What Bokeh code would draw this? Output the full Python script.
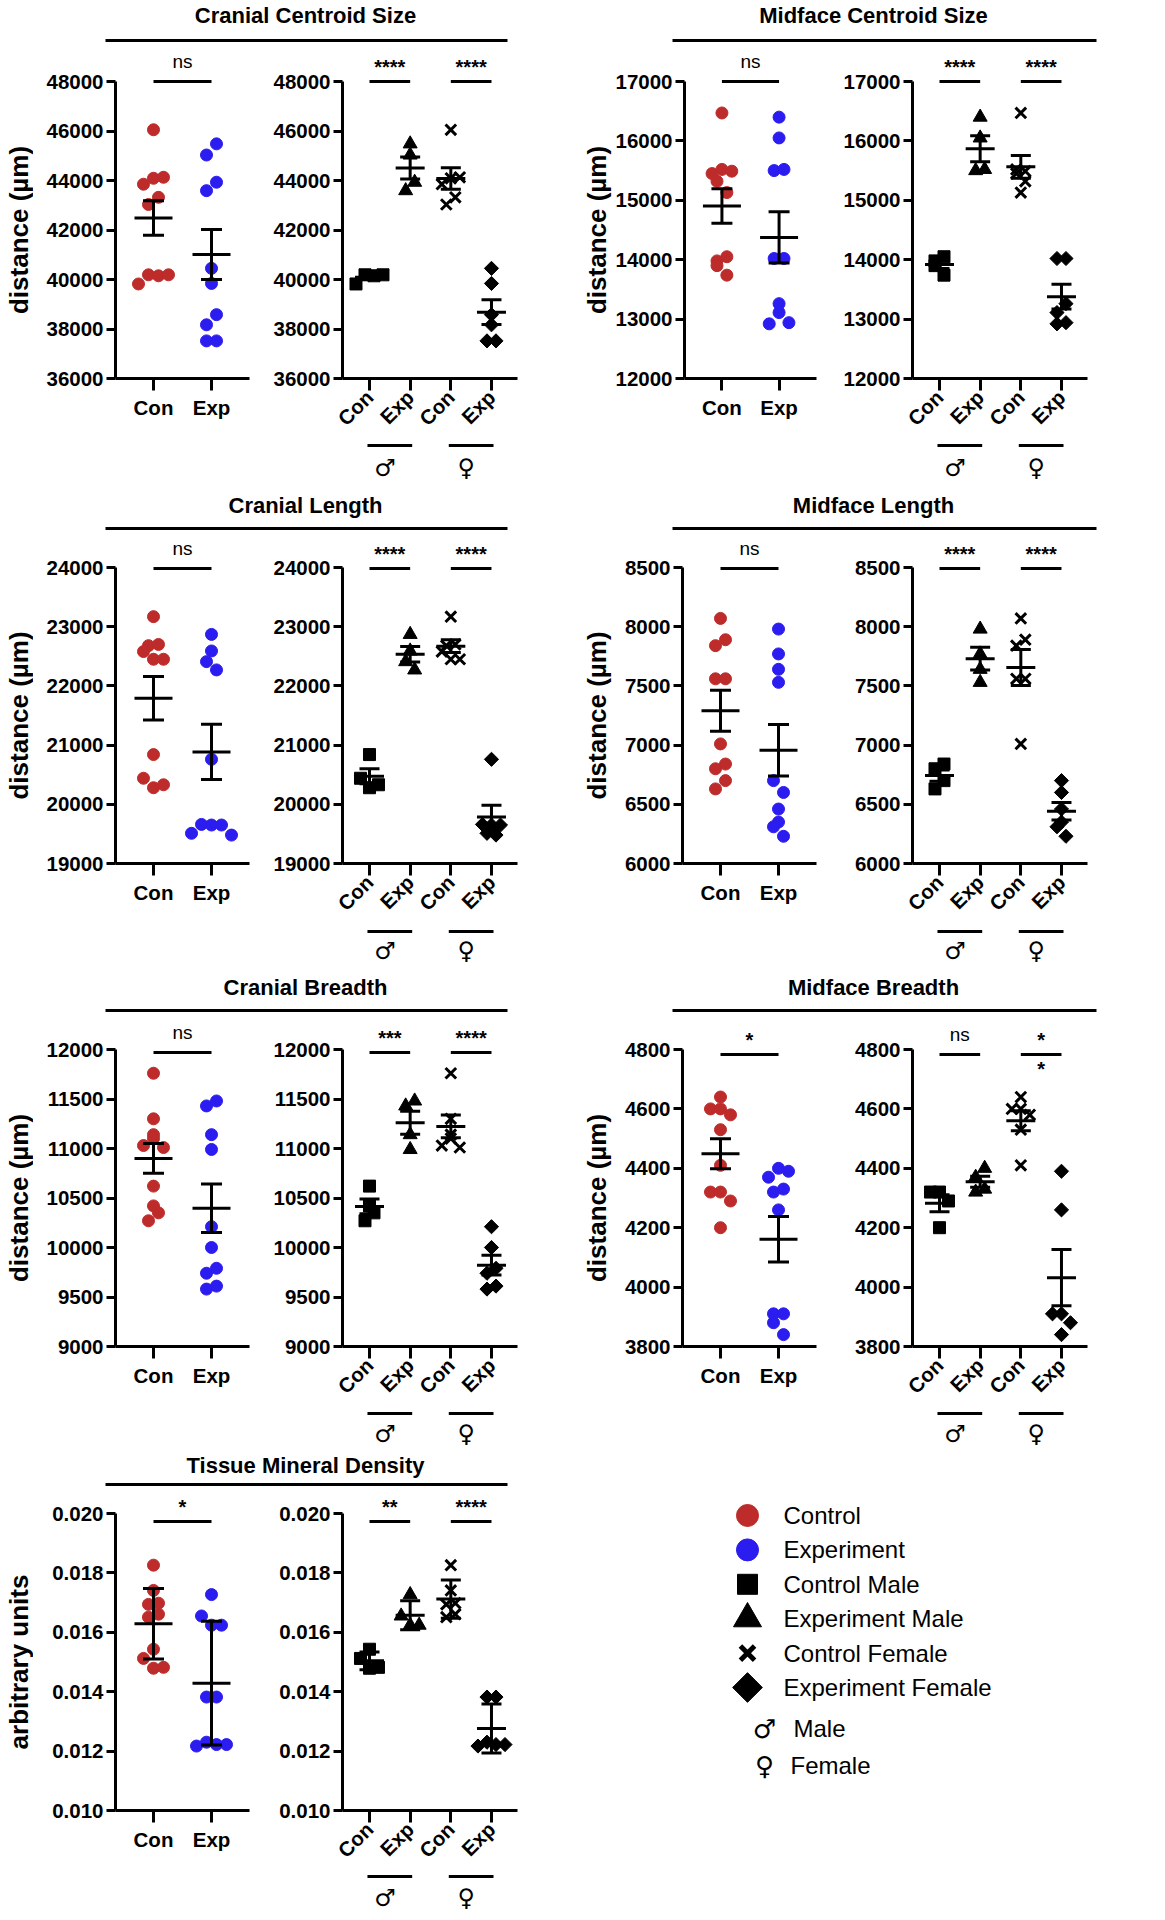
import math
import numpy as np
from bokeh.plotting import figure
from bokeh.models import Range1d, FixedTicker, NumeralTickFormatter
from bokeh.layouts import row, column
from bokeh.embed import file_html
from bokeh.resources import INLINE
from bokeh.core.properties import value

# ------------------------------------------------------------------ data
groups = ["Con", "Exp"]
sex_groups = ["Con", "Exp", "Con", "Exp"]
sex_symbols = ["\u2642", "\u2640"]
legend_labels = ["Control", "Experiment", "Control Male", "Experiment Male",
                 "Control Female", "Experiment Female", "Male", "Female"]

panel_titles = ["Cranial Centroid Size", "Midface Centroid Size", "Cranial Length",
                "Midface Length", "Cranial Breadth", "Midface Breadth",
                "Tissue Mineral Density"]
y_labels = ["distance (\u00b5m)"] * 6 + ["arbitrary units"]

# Cranial Centroid Size
ccs_con_m = [39820, 40190, 40150, 40190]
ccs_con_f = [46050, 43850, 44090, 44130, 43030, 43320]
ccs_exp_m = [45030, 45480, 43590, 43930]
ccs_exp_f = [40450, 39840, 38170, 38580, 37520, 37520]
ccs_ticks = [36000, 38000, 40000, 42000, 44000, 46000, 48000]
ccs_sig = ["ns", "****", "****"]

# Midface Centroid Size
mcs_con_m = [13980, 13900, 14050, 13740]
mcs_con_f = [16470, 15450, 15520, 15490, 15320, 15130]
mcs_exp_m = [16400, 16050, 15500, 15520]
mcs_exp_f = [14020, 14020, 12920, 13110, 13260, 12940]
mcs_ticks = [12000, 13000, 14000, 15000, 16000, 17000]
mcs_sig = ["ns", "****", "****"]

# Cranial Length
cl_con_m = [20840, 20440, 20280, 20330]
cl_con_f = [23170, 22680, 22700, 22580, 22450, 22450]
cl_exp_m = [22870, 22590, 22410, 22270]
cl_exp_f = [20760, 19510, 19660, 19650, 19650, 19480]
cl_ticks = [19000, 20000, 21000, 22000, 23000, 24000]
cl_sig = ["ns", "****", "****"]

# Midface Length
ml_con_m = [6800, 6840, 6630, 6700]
ml_con_f = [8070, 7840, 7890, 7560, 7560, 7010]
ml_exp_m = [7980, 7770, 7640, 7530]
ml_exp_f = [6700, 6600, 6460, 6350, 6310, 6230]
ml_ticks = [6000, 6500, 7000, 7500, 8000, 8500]
ml_sig = ["ns", "****", "****"]

# Cranial Breadth
cb_con_m = [10620, 10420, 10270, 10350]
cb_con_f = [11760, 11300, 11140, 11030, 11100, 11010]
cb_exp_m = [11430, 11480, 11140, 10990]
cb_exp_f = [10210, 10000, 9740, 9790, 9580, 9610]
cb_ticks = [9000, 9500, 10000, 10500, 11000, 11500, 12000]
cb_sig = ["ns", "***", "****"]

# Midface Breadth
mb_con_m = [4320, 4320, 4290, 4200]
mb_con_f = [4640, 4600, 4600, 4580, 4530, 4410]
mb_exp_m = [4370, 4400, 4320, 4330]
mb_exp_f = [4390, 4260, 3910, 3910, 3880, 3840]
mb_ticks = [3800, 4000, 4200, 4400, 4600, 4800]
mb_sig = ["*", "ns", "*"]
mb_sig_below = ["", "", "*"]

# Tissue Mineral Density
tmd_con_m = [0.01543, 0.01512, 0.01479, 0.01482]
tmd_con_f = [0.01826, 0.01741, 0.01694, 0.01698, 0.01651, 0.01661]
tmd_exp_m = [0.01727, 0.01655, 0.01624, 0.01624]
tmd_exp_f = [0.01382, 0.01382, 0.01217, 0.01230, 0.01222, 0.01222]
tmd_ticks = [0.010, 0.012, 0.014, 0.016, 0.018, 0.020]
tmd_sig = ["*", "**", "****"]

panels = [
    dict(con_m=ccs_con_m, con_f=ccs_con_f, exp_m=ccs_exp_m, exp_f=ccs_exp_f, ticks=ccs_ticks, sig=ccs_sig, dec=0, err="sem"),
    dict(con_m=mcs_con_m, con_f=mcs_con_f, exp_m=mcs_exp_m, exp_f=mcs_exp_f, ticks=mcs_ticks, sig=mcs_sig, dec=0, err="sem"),
    dict(con_m=cl_con_m, con_f=cl_con_f, exp_m=cl_exp_m, exp_f=cl_exp_f, ticks=cl_ticks, sig=cl_sig, dec=0, err="sem"),
    dict(con_m=ml_con_m, con_f=ml_con_f, exp_m=ml_exp_m, exp_f=ml_exp_f, ticks=ml_ticks, sig=ml_sig, dec=0, err="sem"),
    dict(con_m=cb_con_m, con_f=cb_con_f, exp_m=cb_exp_m, exp_f=cb_exp_f, ticks=cb_ticks, sig=cb_sig, dec=0, err="sem"),
    dict(con_m=mb_con_m, con_f=mb_con_f, exp_m=mb_exp_m, exp_f=mb_exp_f, ticks=mb_ticks, sig=mb_sig, dec=0, err="sem", below=mb_sig_below),
    dict(con_m=tmd_con_m, con_f=tmd_con_f, exp_m=tmd_exp_m, exp_f=tmd_exp_f, ticks=tmd_ticks, sig=tmd_sig, dec=3, err="sd"),
]

# ------------------------------------------------------------------ style / layout
FONT = "Liberation Sans"
SYM_FONT = "DejaVu Sans"
RED = "#BE2B2B"
BLUE = "#2B1CF0"
BLACK = "black"
TICK_FONT = "20.5px"

ROWS = [
    dict(top=0, title=15, line=40, ftop=49, ymax=81, ymin=378, bottom=486, bar=3, sym=25),
    dict(top=486, title=505, line=528, ftop=535, ymax=567, ymin=863, bottom=968, bar=4, sym=23),
    dict(top=968, title=987, line=1010, ftop=1017, ymax=1049, ymin=1346, bottom=1450, bar=3, sym=23),
    dict(top=1450, title=1465, line=1484, ftop=1491, ymax=1513, ymin=1810, bottom=1918, bar=2, sym=23),
]
COLS = [
    dict(x0=0, y_w=33, y_mbl=31, a_w=227, a_mbl=82, b_w=307, b_mbl=82, line=(105, 507), title_cx=305),
    dict(x0=567, y_w=45, y_mbl=44, a_w=209, a_mbl=70, b_w=342, b_mbl=91, line=(672, 1096), title_cx=873),
]
FRAME_A, FRAME_B = 134, 175
XA = (-0.655, 1.655)
XB = (-0.664, 3.640)
XB_BOTTOM = 64
SIG_DY = [0, 0, 1, 1, 3, 5, 8]


def base_fig(**kw):
    p = figure(toolbar_location=None, output_backend="svg", **kw)
    p.grid.visible = False
    p.outline_line_color = None
    p.background_fill_color = "white"
    p.border_fill_color = "white"
    return p


def blank_fig(w, h, xr=None, yr=None, mbl=0, mbr=0):
    return base_fig(width=w, height=h,
                    x_range=xr if xr is not None else Range1d(0, w),
                    y_range=yr if yr is not None else Range1d(h, 0),
                    x_axis_location=None, y_axis_location=None,
                    min_border_left=mbl, min_border_right=mbr,
                    min_border_top=0, min_border_bottom=0)


def swarm(vals, ppy, ppx, step_px, thresh_px=12):
    v = np.asarray(vals, dtype=float)
    order = np.argsort(v, kind="stable")
    off = np.zeros(len(v))
    clusters, cur = [], [order[0]]
    for i in order[1:]:
        if (v[i] - v[cur[0]]) * ppy < thresh_px:
            cur.append(i)
        else:
            clusters.append(cur)
            cur = [i]
    clusters.append(cur)
    for c in clusters:
        c = sorted(c)
        n = len(c)
        for j, idx in enumerate(c):
            off[idx] = (j - (n - 1) / 2) * step_px / ppx
    return off


def style_axes(p, ticks, dec, labels, rotate):
    yax, xax = p.yaxis[0], p.xaxis[0]
    yax.ticker = FixedTicker(ticks=ticks)
    yax.formatter = NumeralTickFormatter(format="0" if dec == 0 else "0." + "0" * dec)
    yax.bounds = (ticks[0], ticks[-1])
    yax.major_tick_out = 9
    yax.major_label_standoff = 3
    xax.ticker = FixedTicker(ticks=list(range(len(labels))))
    xax.major_label_overrides = {i: s for i, s in enumerate(labels)}
    xax.major_tick_out = 12
    xax.major_label_standoff = 5
    if rotate:
        xax.major_label_orientation = math.pi / 4
        xax.major_label_standoff = 3
    for ax in (xax, yax):
        ax.axis_line_width = 3
        ax.axis_line_color = BLACK
        ax.major_tick_line_width = 3
        ax.major_tick_line_color = BLACK
        ax.major_tick_in = 0
        ax.minor_tick_line_color = None
        ax.major_label_text_font = FONT
        ax.major_label_text_font_size = TICK_FONT
        ax.major_label_text_font_style = "bold"
        ax.major_label_text_color = BLACK


def draw_err(p, xs, data, kind, mean_w, cap_w):
    means, lo, hi = [], [], []
    for v in data:
        v = np.asarray(v, dtype=float)
        m = v.mean()
        e = v.std(ddof=1)
        if kind == "sem":
            e = e / math.sqrt(len(v))
        means.append(m)
        lo.append(m - e)
        hi.append(m + e)
    p.segment(x0=xs, y0=lo, x1=xs, y1=hi, line_color=BLACK, line_width=3)
    p.scatter(xs, means, marker="dash", size=mean_w, line_color=BLACK, line_width=3)
    p.scatter(xs + xs, lo + hi, marker="dash", size=cap_w, line_color=BLACK, line_width=3)


def draw_sig(p, a, b, ybar, label, below=""):
    p.segment(x0=[a], y0=[ybar], x1=[b], y1=[ybar], line_color=BLACK, line_width=3)
    star = label.startswith("*")
    p.text(x=[(a + b) / 2], y=[ybar], text=[label], text_align="center",
           text_baseline="middle", y_offset=-15 if star else -20,
           text_font=value(FONT), text_font_size=value("20px" if star else "19px"),
           text_font_style="bold" if star else "normal", text_color=BLACK)
    if below:
        p.text(x=[(a + b) / 2], y=[ybar], text=[below], text_align="center",
               text_baseline="middle", y_offset=14,
               text_font=value(FONT), text_font_size=value("20px"),
               text_font_style="bold", text_color=BLACK)


def make_block(k):
    P = panels[k]
    R = ROWS[k // 2]
    C = COLS[k % 2]
    block_w = C["y_w"] + C["a_w"] + C["b_w"]
    ticks = P["ticks"]
    t0, t1 = ticks[0], ticks[-1]
    ppy = (R["ymin"] - R["ymax"]) / (t1 - t0)
    yr_end = t0 + (R["ymin"] - R["ftop"]) / ppy
    sub_h = R["bottom"] - R["ftop"]

    # title + line
    th = R["ftop"] - R["top"]
    tf = blank_fig(block_w, th)
    tf.text(x=[C["title_cx"] - C["x0"]], y=[R["title"] - R["top"]], text=[panel_titles[k]],
            text_align="center", text_baseline="middle", text_font=value(FONT),
            text_font_size=value("22px"), text_font_style="bold", text_color=BLACK)
    tf.segment(x0=[C["line"][0] - C["x0"]], y0=[R["line"] - R["top"]],
               x1=[C["line"][1] - C["x0"]], y1=[R["line"] - R["top"]],
               line_color=BLACK, line_width=3)

    # y-axis title: an axis whose frame spans exactly the bounded value axis
    yf = base_fig(width=C["y_w"], height=sub_h, x_range=Range1d(0, 1), y_range=Range1d(t0, t1),
                  x_axis_location=None, y_axis_location="left",
                  min_border_left=C["y_mbl"], min_border_right=0,
                  min_border_top=R["ymax"] - R["ftop"], min_border_bottom=R["bottom"] - R["ymin"])
    lax = yf.yaxis[0]
    lax.ticker = FixedTicker(ticks=[])
    lax.axis_line_color = None
    lax.major_tick_line_color = None
    lax.minor_tick_line_color = None
    lax.major_tick_out = 0
    lax.major_label_standoff = 0
    lax.axis_label = y_labels[k]
    lax.axis_label_standoff = 0
    lax.axis_label_text_font = FONT
    lax.axis_label_text_font_size = "26px"
    lax.axis_label_text_font_style = "bold"
    lax.axis_label_text_color = BLACK

    # pooled plot
    pa = base_fig(width=C["a_w"], height=sub_h, x_range=Range1d(*XA), y_range=Range1d(t0, yr_end),
                  min_border_left=C["a_mbl"], min_border_right=C["a_w"] - C["a_mbl"] - FRAME_A,
                  min_border_top=0, min_border_bottom=R["bottom"] - R["ymin"])
    style_axes(pa, ticks, P["dec"], groups, False)
    ppx_a = FRAME_A / (XA[1] - XA[0])
    pooled = [P["con_m"] + P["con_f"], P["exp_m"] + P["exp_f"]]
    for gi, (vals, col) in enumerate(zip(pooled, [RED, BLUE])):
        xs = gi + swarm(vals, ppy, ppx_a, 10)
        pa.scatter(xs, vals, marker="circle", size=12, fill_color=col, line_color=col)
    draw_err(pa, [0.0, 1.0], pooled, P["err"], 38, 21)
    ybar = t1 - SIG_DY[k] / ppy
    draw_sig(pa, 0, 1, ybar, P["sig"][0])

    # by-sex plot
    xr_b = Range1d(*XB)
    pb_h = R["ymin"] + XB_BOTTOM - R["ftop"]
    pb = base_fig(width=C["b_w"], height=pb_h, x_range=xr_b, y_range=Range1d(t0, yr_end),
                  min_border_left=C["b_mbl"], min_border_right=C["b_w"] - C["b_mbl"] - FRAME_B,
                  min_border_top=0, min_border_bottom=XB_BOTTOM)
    style_axes(pb, ticks, P["dec"], sex_groups, True)
    ppx_b = FRAME_B / (XB[1] - XB[0])
    sex_data = [P["con_m"], P["exp_m"], P["con_f"], P["exp_f"]]
    for gi, vals in enumerate(sex_data):
        xs = gi + swarm(vals, ppy, ppx_b, 9, 10)
        if gi == 0:
            pb.scatter(xs, vals, marker="square", size=12, fill_color=BLACK, line_color=BLACK)
        elif gi == 1:
            pb.scatter(xs, vals, marker="triangle", size=14, fill_color=BLACK, line_color=BLACK)
        elif gi == 2:
            pb.scatter(xs, vals, marker="x", size=15, line_color=BLACK, line_width=3)
        else:
            pb.scatter(xs, vals, marker="square", angle=math.pi / 4, size=10,
                       fill_color=BLACK, line_color=BLACK)
    draw_err(pb, [0.0, 1.0, 2.0, 3.0], sex_data, P["err"], 29, 20)
    below = P.get("below", ["", "", ""])
    draw_sig(pb, 0, 1, ybar, P["sig"][1], below[1])
    draw_sig(pb, 2, 3, ybar, P["sig"][2], below[2])

    # sex bars & symbols
    sh = R["bottom"] - (R["ymin"] + XB_BOTTOM)
    sf = blank_fig(C["b_w"], sh, xr=xr_b, yr=Range1d(sh, 0),
                   mbl=C["b_mbl"], mbr=C["b_w"] - C["b_mbl"] - FRAME_B)
    pairs = [(0, 1), (2, 3)]
    sf.segment(x0=[a - 0.05 for a, b in pairs], y0=[R["bar"]] * 2,
               x1=[b + 0.05 for a, b in pairs], y1=[R["bar"]] * 2,
               line_color=BLACK, line_width=3)
    sf.text(x=[(a + b) / 2 - 0.12 for a, b in pairs], y=[R["sym"]] * 2, text=sex_symbols,
            text_align="center", text_baseline="middle", text_font=value(SYM_FONT),
            text_font_size=value("24px"), text_color=BLACK)

    # each sub-figure wrapped in its own column so rows do not align their frames
    return column(tf, row(column(yf), column(pa), column(pb, sf)))


def make_legend():
    R = ROWS[3]
    C = COLS[1]
    w = C["y_w"] + C["a_w"] + C["b_w"]
    h = R["bottom"] - R["top"]
    p = blank_fig(w, h)
    mx, tx = 180, 216
    ys = [65 + 34.4 * i for i in range(6)] + [278 + 37 * i for i in range(2)]
    specs = [("circle", RED, 22, 0.0), ("circle", BLUE, 22, 0.0), ("square", BLACK, 20, 0.0),
             ("triangle", BLACK, 28, 0.0), ("x", BLACK, 20, 0.0), ("square", BLACK, 21, math.pi / 4)]
    for i, (m, col, s, ang) in enumerate(specs):
        if m == "x":
            p.scatter([mx], [ys[i]], marker="x", size=s, line_color=BLACK, line_width=5)
        else:
            p.scatter([mx], [ys[i]], marker=m, size=s, angle=ang, fill_color=col, line_color=col)
    p.text(x=[tx] * 6, y=ys[:6], text=legend_labels[:6], text_align="left", text_baseline="middle",
           text_font=value(FONT), text_font_size=value("24px"), text_color=BLACK)
    p.text(x=[mx + 17] * 2, y=ys[6:], text=sex_symbols, text_align="center", text_baseline="middle",
           text_font=value(SYM_FONT), text_font_size=value("26px"), text_color=BLACK)
    p.text(x=[tx + 10, tx + 7], y=ys[6:], text=legend_labels[6:], text_align="left",
           text_baseline="middle", text_font=value(FONT), text_font_size=value("24px"),
           text_color=BLACK)
    return p


rows_out = []
for r in range(4):
    items = []
    for c in range(2):
        k = r * 2 + c
        items.append(make_block(k) if k < len(panels) else make_legend())
    rows_out.append(row(*items))
layout = column(*rows_out)

open("out.html", "w").write(file_html(layout, INLINE))
